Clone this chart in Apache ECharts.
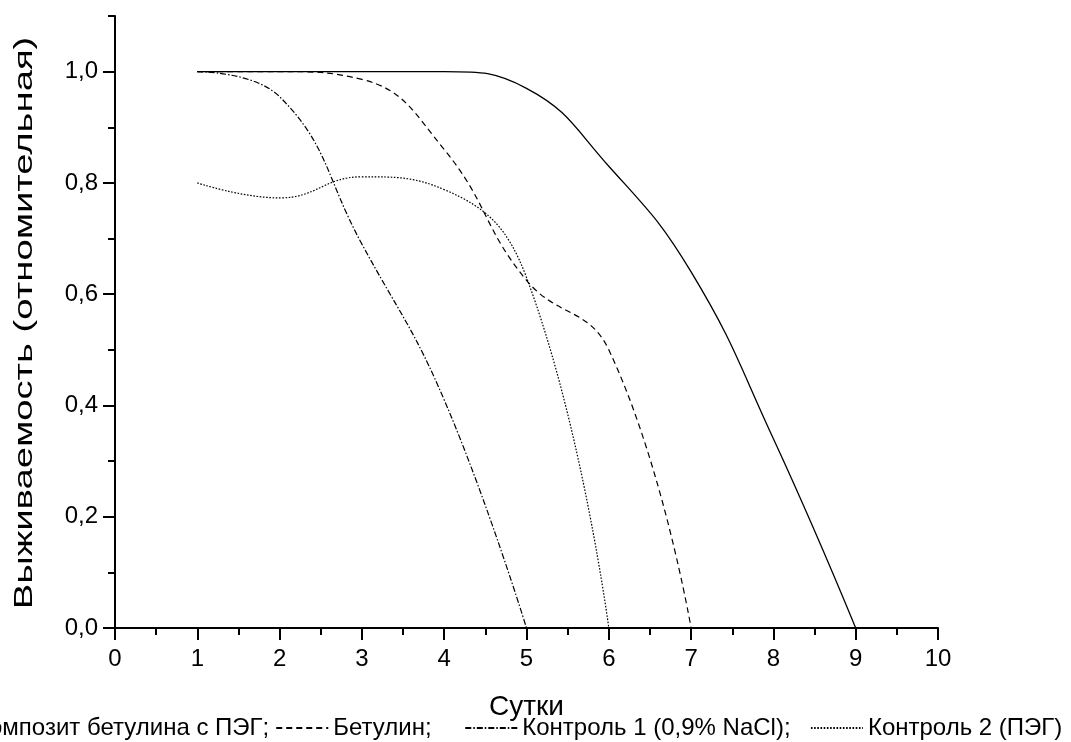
<!DOCTYPE html>
<html>
<head>
<meta charset="utf-8">
<script src="https://cdn.jsdelivr.net/npm/echarts@6/dist/echarts.min.js"></script>
<style>
  html, body { margin: 0; padding: 0; background: #fff; }
  #chart { width: 1071px; height: 742px; }
</style>
</head>
<body>
<div id="chart"></div>
<script>
// сутки (ось X)
const days = [1, 2, 3, 4, 5, 6, 7, 8, 9];
// значения выживаемости
const composite = [1, 1, 1, 1, 0.97, 0.83, 0.64, 0.34, 0];
const betulin = [1, 1, 0.986, 0.86, 0.625, 0.5, 0];
const control1 = [1, 0.955, 0.69, 0.41, 0];
const control2 = [0.8, 0.773, 0.811, 0.788, 0.63, 0];
const seriesNames = ['Композит бетулина с ПЭГ;', 'Бетулин;', 'Контроль 1 (0,9% NaCl);', 'Контроль 2 (ПЭГ)'];
// пробелы после подписей легенды, как в оригинале
const legendPad = ['', '    ', '  ', ''];
const yMajorTicks = [0, 0.2, 0.4, 0.6, 0.8, 1.0];
const yTitle = 'Выживаемость (отномительная)';
const xTitle = 'Сутки';

const font = 'Arial, "Liberation Sans", sans-serif';

function pairs(values) {
  return values.map((v, i) => [days[i], v]);
}

function makeLine(name, values, dash, width) {
  return {
    name: name,
    type: 'line',
    data: pairs(values),
    smooth: 0.45,
    symbol: 'none',
    showSymbol: false,
    silent: true,
    lineStyle: {
      color: '#000',
      width: width,
      type: dash
    },
    itemStyle: { color: '#000' }
  };
}

const chart = echarts.init(document.getElementById('chart'), null, {
  renderer: 'canvas'
});

var option = {
  backgroundColor: '#fff',
  animation: false,
  textStyle: { fontFamily: font },
  grid: {
    left: 115,
    right: 133,
    top: 16,
    bottom: 114
  },
  // подпись оси Y растянута вдоль, как в оригинале
  graphic: [{
    type: 'text',
    x: 25,
    y: 323,
    rotation: Math.PI / 2,
    scaleX: 1.47,
    silent: true,
    style: {
      text: yTitle,
      fill: '#000',
      font: '26px ' + font,
      align: 'center',
      verticalAlign: 'middle'
    }
  }],
  legend: {
    left: -88,
    top: 711,
    width: 1500,
    itemWidth: 52,
    itemHeight: 14,
    itemGap: 6,
    itemStyle: {
      color: 'rgba(0,0,0,0)',
      borderColor: 'rgba(0,0,0,0)',
      borderWidth: 0,
      opacity: 0
    },
    formatter: function (name) {
      return name + legendPad[seriesNames.indexOf(name)];
    },
    textStyle: {
      color: '#000',
      fontSize: 24,
      fontFamily: font
    },
    data: seriesNames
  },
  xAxis: {
    type: 'value',
    min: 0,
    max: 10,
    interval: 1,
    name: xTitle,
    nameLocation: 'middle',
    nameGap: 65,
    nameTextStyle: { color: '#000', fontSize: 28, fontFamily: font },
    axisLine: { onZero: false, lineStyle: { color: '#000', width: 2 } },
    axisTick: { inside: false, length: 12, lineStyle: { color: '#000', width: 2 } },
    minorTick: { show: true, splitNumber: 2, length: 7, lineStyle: { color: '#000', width: 2 } },
    axisLabel: { color: '#000', fontSize: 24, margin: 19, fontFamily: font },
    splitLine: { show: false }
  },
  yAxis: [{
    type: 'value',
    min: 0,
    max: 1.1,
    interval: 0.1,
    axisLine: { onZero: false, lineStyle: { color: '#000', width: 2 } },
    axisTick: { inside: false, length: 7, lineStyle: { color: '#000', width: 2 } },
    axisLabel: {
      color: '#000',
      fontSize: 24,
      margin: 17,
      fontFamily: font,
      formatter: function (v) {
        const t = Math.round(v * 10);
        if (t % 2 !== 0 || t > 10) return '';
        return (t / 10).toFixed(1).replace('.', ',');
      }
    },
    splitLine: { show: false }
  }, {
    // только длинные основные деления
    type: 'value',
    position: 'left',
    min: 0,
    max: 1.1,
    interval: 0.2,
    axisLine: { show: false },
    axisTick: {
      show: true,
      inside: false,
      length: 12,
      customValues: yMajorTicks,
      lineStyle: { color: '#000', width: 2 }
    },
    axisLabel: { show: false },
    splitLine: { show: false }
  }],
  series: [
    makeLine(seriesNames[0], composite, 'solid', 1.3),
    makeLine(seriesNames[1], betulin, [6, 4], 1.2),
    makeLine(seriesNames[2], control1, [6, 2, 1.5, 2], 1.2),
    makeLine(seriesNames[3], control2, [1.6, 1.6], 1.2)
  ]
};

chart.setOption(option);
</script>
</body>
</html>
